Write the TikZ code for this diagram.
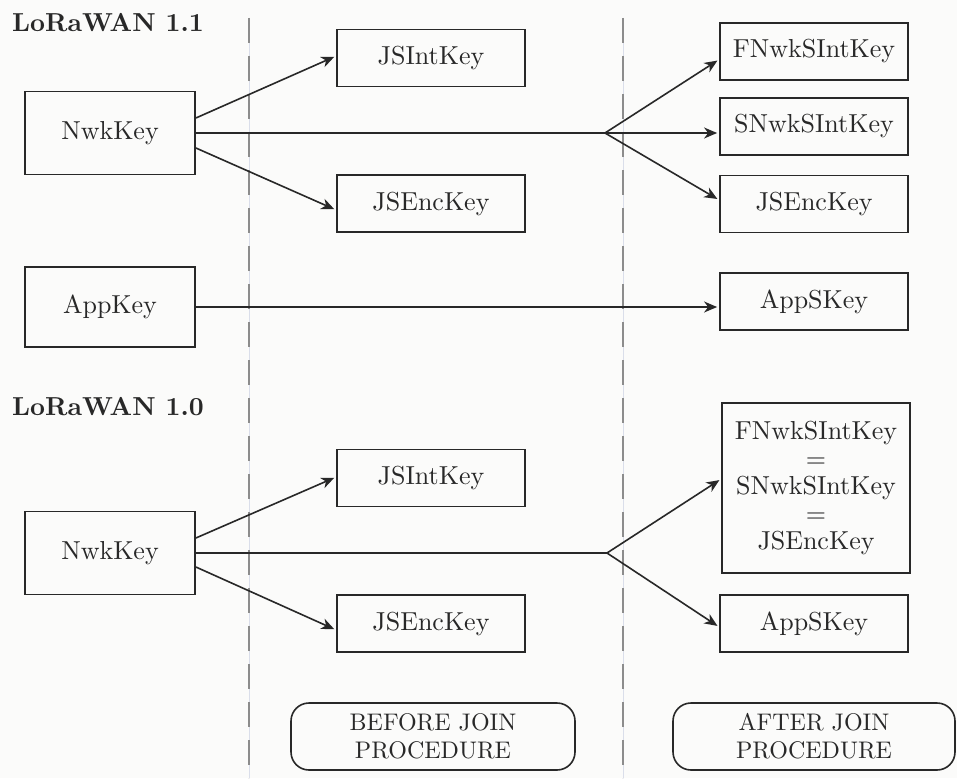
\documentclass[tikz,border=0pt]{standalone}
\usepackage{fontspec}
\setmainfont{lmroman10-regular.otf}[BoldFont=lmroman10-bold.otf]
\usetikzlibrary{arrows.meta}
\begin{document}
\begin{tikzpicture}[x=1pt,y=-1pt,
  ink/.style={draw={rgb,255:red,40;green,40;blue,40}},
  keybox/.style={ink, line width=1.8pt, rectangle, minimum width=188pt, minimum height=57pt,
    inner sep=0pt, font=\fontsize{26}{27.5}\selectfont, text={rgb,255:red,40;green,40;blue,40}},
  bigkey/.style={keybox, minimum width=170pt, minimum height=83pt},
  phasebox/.style={ink, line width=1.6pt, rounded corners=18pt, minimum width=284pt, minimum height=67pt,
    inner sep=0pt, align=center, font=\fontsize{24}{28}\selectfont, text={rgb,255:red,40;green,40;blue,40}},
  title/.style={anchor=west, inner sep=0pt, font=\fontsize{26}{28}\selectfont\bfseries, text={rgb,255:red,40;green,40;blue,40}},
  link/.style={ink, line width=1.6pt},
  arrow/.style={link, -{Stealth[length=13pt,width=11pt,inset=4pt]}, shorten >=2pt},
  divider/.style={draw={rgb,255:red,140;green,140;blue,140}, line width=1.6pt, dash pattern=on 25pt off 13pt},
  hairline/.style={draw={rgb,255:red,218;green,222;blue,234}, line width=0.9pt}
]
\useasboundingbox[fill={rgb,255:red,251;green,251;blue,250}] (0,0) rectangle (957,778);

% phase dividers
\coordinate (d1t) at (249,18);
\coordinate (d1b) at (249,778);
\coordinate (d2t) at (623,18);
\coordinate (d2b) at (623,778);
\draw[hairline] (d1t) -- (d1b);
\draw[hairline] (d2t) -- (d2b);
\draw[divider] (d1t) -- (d1b);
\draw[divider] (d2t) -- (d2b);

% ---------------- LoRaWAN 1.1 ----------------
\node[title] (t11) at (12,23) {LoRaWAN 1.1};
\node[bigkey] (nwkA) at (110,133) {NwkKey};
\node[bigkey, minimum height=80pt] (appkey) at (110,307) {AppKey};
\node[keybox] (jsintA) at (431,58) {JSIntKey};
\node[keybox] (jsencA) at (431,203.5) {JSEncKey};
\node[keybox] (fnwk) at (814,51.5) {FNwkSIntKey};
\node[keybox] (snwk) at (814,126.5) {SNwkSIntKey};
\node[keybox] (jsencR) at (814,204) {JSEncKey};
\node[keybox] (appsA) at (814,301.5) {AppSKey};
\coordinate (brA) at (605,133);

\draw[arrow] ([yshift=15pt]nwkA.east) -- ([yshift=2pt]jsintA.west);
\draw[arrow] ([yshift=-15pt]nwkA.east) -- ([yshift=-6.5pt]jsencA.west);
\draw[link] (nwkA.east) -- (brA);
\draw[arrow] (brA) -- ([yshift=-8pt]fnwk.west);
\draw[arrow] (brA) -- (snwk.west |- brA);
\draw[arrow] (brA) -- ([yshift=4pt]jsencR.west);
\draw[arrow] (appkey.east) -- (appsA.west |- appkey);

% ---------------- LoRaWAN 1.0 ----------------
\node[title] (t10) at (12,407) {LoRaWAN 1.0};
\node[bigkey] (nwkB) at (110,553) {NwkKey};
\node[keybox] (jsintB) at (431,478) {JSIntKey};
\node[keybox] (jsencB) at (431,623.5) {JSEncKey};
\node[keybox, minimum height=170pt, align=center] (merged) at (816,488)
  {FNwkSIntKey\\=\\SNwkSIntKey\\=\\JSEncKey};
\node[keybox] (appsB) at (814,623.5) {AppSKey};
\coordinate (brB) at (607,553);

\draw[arrow] ([yshift=15pt]nwkB.east) -- ([yshift=1pt]jsintB.west);
\draw[arrow] ([yshift=-14pt]nwkB.east) -- ([yshift=-6.5pt]jsencB.west);
\draw[link] (nwkB.east) -- (brB);
\draw[arrow] (brB) -- ([yshift=9pt]merged.west);
\draw[arrow] (brB) -- ([yshift=-3.5pt]appsB.west);

% ---------------- phase labels ----------------
\node[phasebox] (before) at (433,736.5) {BEFORE JOIN\\PROCEDURE};
\node[phasebox, minimum width=282pt] (after) at (814,736.5) {AFTER JOIN\\PROCEDURE};
\end{tikzpicture}
\end{document}
